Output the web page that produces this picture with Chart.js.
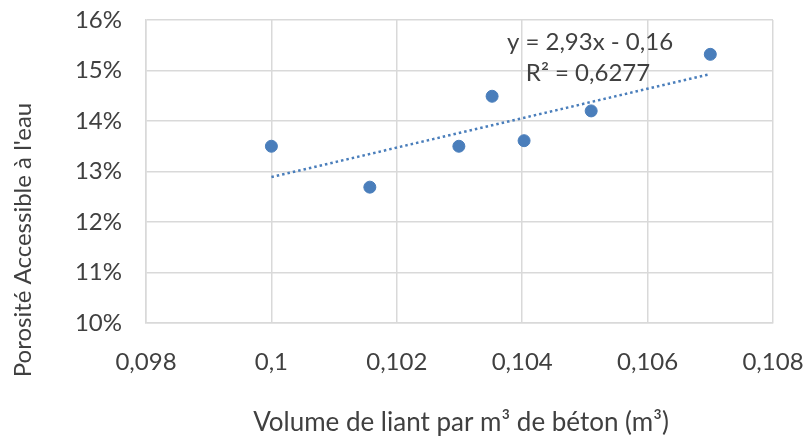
<!DOCTYPE html>
<html>
<head>
<meta charset="utf-8">
<script src="https://cdn.jsdelivr.net/npm/chart.js@4"></script>
<style>
  html, body { margin: 0; padding: 0; background: #fff; }
  #wrap { width: 807px; height: 438px; position: relative; }
</style>
</head>
<body>
<div id="wrap"><canvas id="chart" width="807" height="438"></canvas></div>
<script>
// data
const volumes = [0.1, 0.10157, 0.10299, 0.10352, 0.10403, 0.1051, 0.107];
const porosity = [13.5, 12.69, 13.5, 14.49, 13.61, 14.2, 15.32];
const trendX = [0.1, 0.107];
const trendY = [12.89, 14.93];
const xTicks = [0.098, 0.1, 0.102, 0.104, 0.106, 0.108];
const yTicks = [10, 11, 12, 13, 14, 15, 16];
const equation = ['y = 2,93x - 0,16', 'R² = 0,6277'];

const FONT = 'Lato, "Open Sans", sans-serif';
const TXT = '#404040';
const BLUE = '#4a7ebb';

const fmtComma = v => String(Math.round(v * 1000) / 1000).replace('.', ',');

// axis titles + equation label
const labelsPlugin = {
    id: 'labels',
    afterDraw(chart) {
        const c = chart.ctx;
        c.save();
        c.fillStyle = TXT;
        c.textAlign = 'center';
        c.textBaseline = 'middle';
        c.font = '26px ' + FONT;
        c.fillText('Volume de liant par m³ de béton (m³)', 461, 423);

        c.save();
        c.translate(23, 240);
        c.rotate(-Math.PI / 2);
        c.font = '24px ' + FONT;
        c.fillText("Porosité Accessible à l'eau", 0, 0);
        c.restore();

        c.font = '24px ' + FONT;
        c.fillText(equation[0], 590, 42);
        c.fillText(equation[1], 588, 73);
        c.restore();
    }
};

new Chart(document.getElementById('chart'), {
    type: 'scatter',
    data: {
        datasets: [
            {
                label: 'Porosité',
                data: volumes.map((x, i) => ({ x: x, y: porosity[i] })),
                backgroundColor: BLUE,
                borderColor: BLUE,
                pointRadius: 6,
                pointHoverRadius: 6,
                order: 1
            },
            {
                label: 'Tendance',
                type: 'line',
                data: trendX.map((x, i) => ({ x: x, y: trendY[i] })),
                borderColor: BLUE,
                borderWidth: 2.5,
                borderDash: [2.5, 3],
                pointRadius: 0,
                fill: false,
                order: 2
            }
        ]
    },
    options: {
        responsive: false,
        animation: false,
        layout: { padding: { top: 20, right: 34, left: 0, bottom: 0 } },
        plugins: {
            legend: { display: false },
            tooltip: { enabled: false }
        },
        scales: {
            x: {
                type: 'linear',
                min: xTicks[0],
                max: xTicks[xTicks.length - 1],
                afterBuildTicks: s => { s.ticks = xTicks.map(v => ({ value: v })); },
                afterFit: s => { s.height = 115; s.paddingLeft = 0; s.paddingRight = 0; },
                ticks: {
                    color: TXT,
                    font: { family: FONT, size: 24 },
                    padding: 25,
                    maxRotation: 0,
                    callback: v => fmtComma(v)
                },
                grid: { color: '#d9d9d9', lineWidth: 1.5, drawTicks: false },
                border: { color: '#d9d9d9', width: 1.5 }
            },
            y: {
                min: yTicks[0],
                max: yTicks[yTicks.length - 1],
                afterBuildTicks: s => { s.ticks = yTicks.map(v => ({ value: v })); },
                afterFit: s => { s.width = 146; s.paddingTop = 0; s.paddingBottom = 0; },
                ticks: {
                    color: TXT,
                    font: { family: FONT, size: 24 },
                    padding: 24,
                    callback: v => v + '%'
                },
                grid: { color: '#d9d9d9', lineWidth: 1.5, drawTicks: false },
                border: { color: '#d9d9d9', width: 1.5 }
            }
        }
    },
    plugins: [labelsPlugin]
});
</script>
</body>
</html>
